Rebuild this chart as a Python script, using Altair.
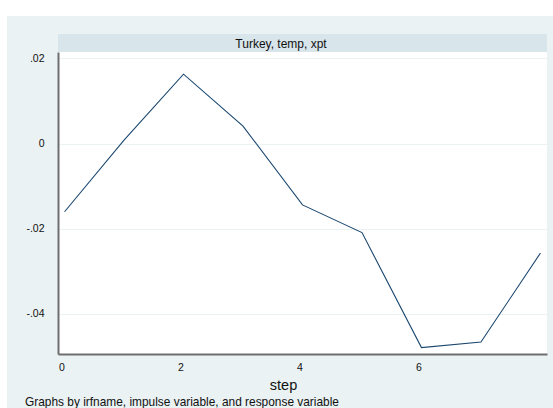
import altair as alt
import pandas as pd

# Impulse-response of xpt to a temp shock, Turkey
steps = [0, 1, 2, 3, 4, 5, 6, 7, 8]
irf = [-0.0160, 0.0008, 0.0163, 0.0041, -0.0144, -0.0209, -0.0479, -0.0466, -0.0257]
y_ticks = [-0.04, -0.02, 0, 0.02]
y_labels = ["-.04", "-.02", "0", ".02"]
x_ticks = [0, 2, 4, 6]

panel_title = "Turkey, temp, xpt"
note = "Graphs by irfname, impulse variable, and response variable"

W, H = 489, 302
BG = "#EAF2F3"
STRIP = "#D8E5EA"
NAVY = "#1A476F"
FONT = "Liberation Sans"
MID = 223  # horizontal centre of the whole graph, relative to the plot's left edge

df = pd.DataFrame({"step": steps, "irf": irf})

label_map = "{" + ", ".join(f"'{v}': '{s}'" for v, s in zip(y_ticks, y_labels)) + "}"

line = alt.Chart(df).mark_line(color=NAVY, strokeWidth=1.1).encode(
    x=alt.X(
        "step:Q",
        scale=alt.Scale(domain=[-0.11, 8.11], nice=False, zero=False),
        axis=alt.Axis(
            values=x_ticks, grid=False, ticks=False, labelPadding=8,
            labelOffset=-3, labelFontSize=10.5, title="step", titleFontSize=14.5,
            titleFontWeight="normal", titleX=MID + 2, titleY=35,
            titleBaseline="alphabetic", titleAnchor="start", titleAlign="center",
            format="d",
        ),
    ),
    y=alt.Y(
        "irf:Q",
        scale=alt.Scale(domain=[-0.0494, 0.0215], nice=False, zero=False),
        axis=alt.Axis(
            values=y_ticks, grid=True, ticks=False, labelPadding=14,
            labelFontSize=10.5, title=None,
            labelExpr=label_map + "[toString(datum.value)]",
        ),
    ),
)

# white margin above and to the left of the graph region
top_band = alt.Chart(df).mark_rect(color="white").encode(
    x=alt.value(-58), x2=alt.value(495), y=alt.value(-52), y2=alt.value(-36)
)
left_band = alt.Chart(df).mark_rect(color="white").encode(
    x=alt.value(-58), x2=alt.value(-51), y=alt.value(-52), y2=alt.value(356)
)

# panel strip with the by-group label
strip = alt.Chart(df).mark_rect(color=STRIP).encode(
    x=alt.value(0), x2=alt.value(W), y=alt.value(-18), y2=alt.value(0)
)
strip_text = alt.Chart(pd.DataFrame({"t": [panel_title]})).mark_text(
    font=FONT, fontSize=12, color="#111111", baseline="middle", align="center"
).encode(x=alt.value(MID), y=alt.value(-8), text="t:N")

note_text = alt.Chart(pd.DataFrame({"t": [note]})).mark_text(
    font=FONT, fontSize=11.9, color="#111111", baseline="middle", align="left"
).encode(x=alt.value(-33), y=alt.value(350), text="t:N")

chart = alt.layer(top_band, left_band, strip, line, strip_text, note_text).properties(
    width=W, height=H,
    autosize=alt.AutoSizeParams(type="none"),
    padding={"left": 58, "top": 52, "right": 6, "bottom": 54},
    background=BG,
).configure_view(
    fill="white", stroke="transparent", strokeWidth=0
).configure_axis(
    labelFont=FONT, titleFont=FONT, labelColor="#111111", titleColor="#111111",
    domainColor="#6E6E6E", domainWidth=2, gridColor=BG, gridWidth=1,
)

chart.save("out.html", embed_options={"renderer": "svg", "actions": False})
